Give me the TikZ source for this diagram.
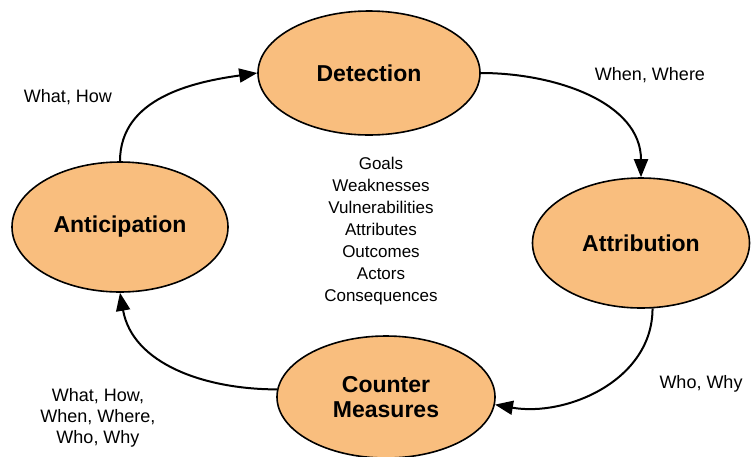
\documentclass[tikz,border=0pt]{standalone}
\usepackage{fontspec}
\setmainfont{Liberation Sans}
\usetikzlibrary{shapes.geometric,arrows.meta}
\definecolor{ovalfill}{RGB}{249,190,126}
\begin{document}
\begin{tikzpicture}[x=1pt,y=-1pt,
  oval/.style={ellipse,draw=black,line width=1.6pt,fill=ovalfill,inner sep=0pt,
    font=\fontsize{23}{25}\selectfont\bfseries,align=center},
  conn/.style={line width=2pt,-{Triangle[length=18pt,width=14pt]}},
  lbl/.style={font=\fontsize{18}{21}\selectfont,align=center,inner sep=0pt}]
\useasboundingbox (0,0) rectangle (752,456);
\node[oval,minimum width=222pt,minimum height=124pt] (det) at (369,73) {Detection};
\node[oval,minimum width=216pt,minimum height=130pt] (ant) at (120,227) {Anticipation};
\node[oval,minimum width=217pt,minimum height=130pt] (att) at (641,243) {Attribution};
\node[oval,minimum width=218pt,minimum height=122pt] (cm) at (386,397) {Counter\\Measures};
\draw[conn] (ant.north) to[out=90,in=188] (det.west);
\draw[conn] (det.east) to[out=0,in=90] (att.north);
\draw[conn] (att.-80) to[out=-90,in=-10] (cm.-4);
\draw[conn] (cm.176) to[out=180,in=-80] (ant.south);
\node[lbl] (l1) at (68,97) {What, How};
\node[lbl] (l2) at (650,75) {When, Where};
\node[lbl] (l3) at (701,384) {Who, Why};
\node[lbl] (l4) at (98,418) {What, How,\\When, Where,\\Who, Why};
\node[lbl,font=\fontsize{17}{22}\selectfont] (mid) at (381,231) {Goals\\Weaknesses\\Vulnerabilities\\Attributes\\Outcomes\\Actors\\Consequences};
\end{tikzpicture}
\end{document}
